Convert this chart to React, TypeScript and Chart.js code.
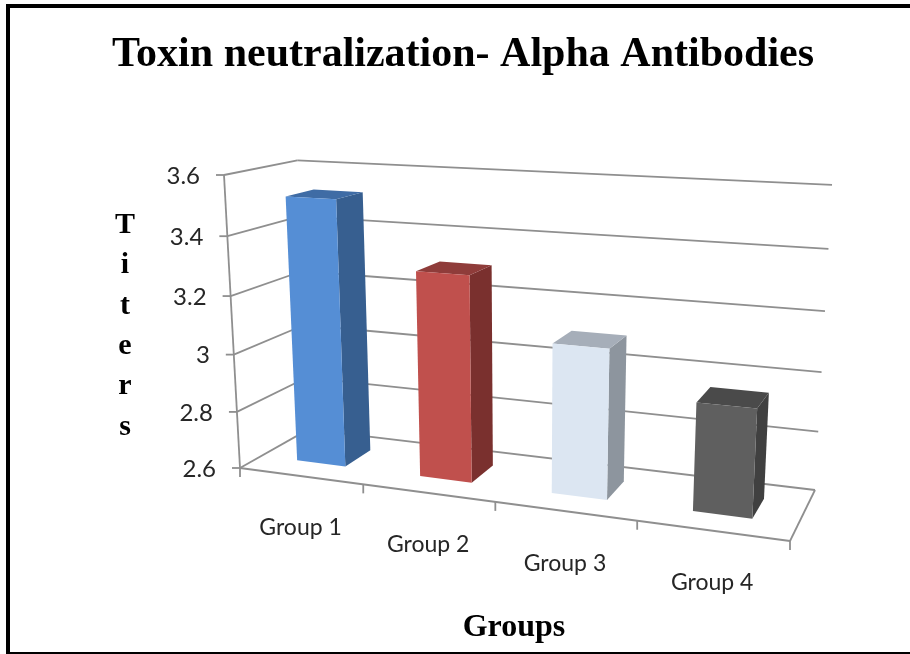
import React, { useEffect, useRef } from "react";
import { Chart, registerables } from "chart.js";

Chart.register(...registerables);

const categories = ["Group 1", "Group 2", "Group 3", "Group 4"];
const titers = [3.52, 3.3, 3.1, 2.955];
const yMin = 2.6;
const yMax = 3.6;
const yStep = 0.2;
const chartTitle = "Toxin neutralization- Alpha Antibodies";
const xTitle = "Groups";
const yTitleLetters = ["T", "i", "t", "e", "r", "s"];
const frontColors = ["#558ed5", "#c0504d", "#dce6f2", "#5f5f5f"];
const sideColors = ["#375f90", "#7a302e", "#8d959e", "#404040"];
const topColors = ["#3f6ca5", "#8f3c3a", "#a6aeb9", "#4a4a4a"];

type P = [number, number];
// Projected corners of the floor (front-left, front-right, back-right, back-left)
const floorQuad: P[] = [[240, 468], [790, 541], [815, 490], [308.4, 429.4]];
// Where the top of the front-left and back-right vertical edges land
const roofFrontLeft: P = [224, 175];
const roofBackRight: P = [832, 184.7];

function makeProjection(q: P[], tl: P, br: P) {
  const [[x0, y0], [x1, y1], [x2, y2], [x3, y3]] = q;
  const dx1 = x1 - x2, dx2 = x3 - x2, sx = x0 - x1 + x2 - x3;
  const dy1 = y1 - y2, dy2 = y3 - y2, sy = y0 - y1 + y2 - y3;
  const det = dx1 * dy2 - dx2 * dy1;
  const g = (sx * dy2 - dx2 * sy) / det;
  const h = (dx1 * sy - sx * dy1) / det;
  const a = x1 - x0 + g * x1, b = x3 - x0 + h * x3;
  const d = y1 - y0 + g * y1, e = y3 - y0 + h * y3;
  const z11 = g + h + 1;
  const i = ((x2 - br[0]) * z11 - (x0 - tl[0])) / (br[0] - tl[0]);
  const C = tl[0] * (1 + i) - x0;
  const F = tl[1] * (1 + i) - y0;
  return (u: number, v: number, w: number): P => {
    const z = g * u + h * v + 1 + i * w;
    return [(a * u + b * v + x0 + C * w) / z, (d * u + e * v + y0 + F * w) / z];
  };
}
const project = makeProjection(floorQuad, roofFrontLeft, roofBackRight);

const depthFront = 0.3;
const depthBack = 0.7;
const gridColor = "#8f8f8f";

const box3d = {
  id: "box3d",
  beforeDatasetsDraw(chart: any) {
    const { ctx, chartArea: ca, scales } = chart;
    const ys = scales.y;
    const xs = scales.x;
    const wOf = (px: number) => (ca.bottom - px) / (ca.bottom - ca.top);
    const uOf = (px: number) => (px - ca.left) / (ca.right - ca.left);

    const line = (a: P, b: P) => {
      ctx.beginPath();
      ctx.moveTo(a[0], a[1]);
      ctx.lineTo(b[0], b[1]);
      ctx.stroke();
    };

    ctx.save();
    // frame
    ctx.fillStyle = "#000";
    ctx.fillRect(6, 4, 904, 4);
    ctx.fillRect(6, 4, 4, 650);
    ctx.fillRect(6, 652, 904, 2);

    // walls and gridlines
    ctx.strokeStyle = gridColor;
    ctx.lineWidth = 1.8;
    ctx.font = "24px Lato";
    ctx.textBaseline = "middle";
    ctx.textAlign = "right";
    ys.ticks.forEach((t: any) => {
      const w = wOf(ys.getPixelForValue(t.value));
      const a = project(0, 0, w);
      const b = project(0, 1, w);
      const c = project(1, 1, w);
      line(a, b);
      line(b, c);
      line([a[0] - 8, a[1]], a);
      ctx.fillStyle = "#262626";
      ctx.fillText(String(Math.round(t.value * 10) / 10), a[0] - 24, a[1] + 1);
    });
    line(project(0, 0, 0), project(0, 0, 1));
    line(project(0, 0, 0), project(1, 0, 0));
    line(project(1, 0, 0), project(1, 1, 0));

    // category ticks and labels
    ctx.font = "23px Lato";
    ctx.textAlign = "center";
    const n = categories.length;
    for (let i = 0; i <= n; i++) {
      const p = project(i / n, 0, 0);
      line(p, [p[0], p[1] + 9]);
    }
    categories.forEach((_, i) => {
      const px = xs.getPixelForValue(i);
      const p = project(uOf(px), 0, 0);
      ctx.fillStyle = "#262626";
      ctx.fillText(xs.getLabelForValue(i), p[0], p[1] + 52);
    });

    // bars
    const meta = chart.getDatasetMeta(0);
    meta.data.forEach((el: any, i: number) => {
      const { x, y, width } = el.getProps(["x", "y", "width"]);
      const u0 = uOf(x - width / 2);
      const u1 = uOf(x + width / 2);
      const w = wOf(y);
      const quad = (pts: P[], fill: string) => {
        ctx.beginPath();
        pts.forEach((pt, k) => (k ? ctx.lineTo(pt[0], pt[1]) : ctx.moveTo(pt[0], pt[1])));
        ctx.closePath();
        ctx.fillStyle = fill;
        ctx.fill();
      };
      const v0 = depthFront, v1 = depthBack;
      quad([project(u1, v0, 0), project(u1, v1, 0), project(u1, v1, w), project(u1, v0, w)], sideColors[i]);
      quad([project(u0, v0, w), project(u1, v0, w), project(u1, v1, w), project(u0, v1, w)], topColors[i]);
      quad([project(u0, v0, 0), project(u1, v0, 0), project(u1, v0, w), project(u0, v0, w)], el.options.backgroundColor);
    });

    // axis titles
    ctx.fillStyle = "#000";
    ctx.textAlign = "center";
    ctx.font = "bold 32px 'Liberation Serif'";
    ctx.fillText(xTitle, 514, 628);
    ctx.font = "bold 30px 'Liberation Serif'";
    yTitleLetters.forEach((ch, i) => {
      ctx.fillText(ch, 125, 225 + i * 40.4);
    });
    ctx.restore();
  },
  beforeDatasetDraw() {
    return false;
  },
};

export default function App() {
  const ref = useRef<HTMLCanvasElement>(null);
  useEffect(() => {
    const chart = new Chart(ref.current as HTMLCanvasElement, {
      type: "bar",
      data: {
        labels: categories,
        datasets: [{ label: "Titers", data: titers, backgroundColor: frontColors, barPercentage: 0.4, categoryPercentage: 1 }],
      },
      options: {
        responsive: false,
        animation: false,
        layout: { padding: { left: 16 } },
        plugins: {
          legend: { display: false },
          tooltip: { enabled: false },
          title: {
            display: true,
            text: chartTitle,
            color: "#000",
            font: { family: "'Liberation Serif'", size: 42, weight: "bold" },
            padding: { top: 30, bottom: 10 },
          },
        },
        scales: {
          x: { display: false },
          y: { display: false, min: yMin, max: yMax, ticks: { stepSize: yStep } },
        },
      },
      plugins: [box3d],
    } as any);
    return () => chart.destroy();
  }, []);
  return <canvas ref={ref} width={910} height={654} style={{ position: "fixed", left: 0, top: 0, background: "#fff" }} />;
}
